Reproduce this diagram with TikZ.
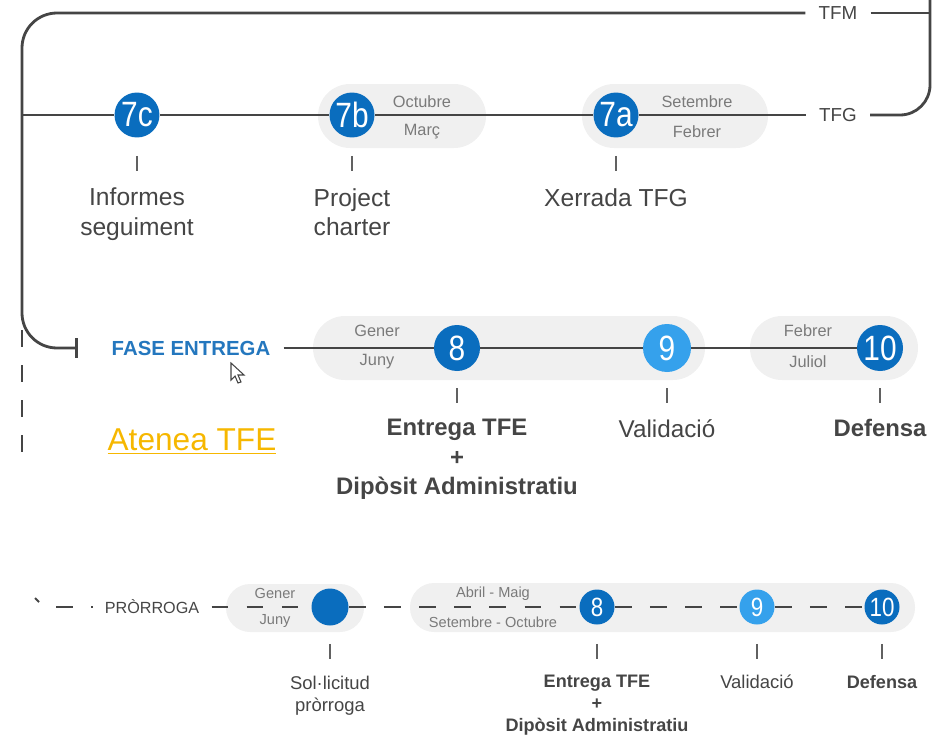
\documentclass[tikz,border=0pt]{standalone}
\usepackage{fontspec}
\setmainfont{Liberation Sans}
\newfontfamily\numfont[FakeStretch=0.85]{Liberation Sans}
\usetikzlibrary{positioning, arrows.meta}
\definecolor{blaufosc}{HTML}{0A6DBE}
\definecolor{blauclar}{HTML}{35A1EC}
\definecolor{grisfons}{HTML}{F0F0F0}
\definecolor{grislinia}{HTML}{454545}
\definecolor{grismes}{HTML}{7A7A7A}
\definecolor{groc}{HTML}{F6B700}
\definecolor{blaufase}{HTML}{2477BE}

\begin{document}
\begin{tikzpicture}[x=0.02cm, y=-0.02cm,
  linia/.style={draw=grislinia, line width=1.6pt},
  puntejat/.style={draw=grislinia, line width=1.4pt, dash pattern=on 9.5pt off 10.5pt},
  marca/.style={draw=grislinia!85, line width=1.1pt},
  fita/.style={circle, fill=blaufosc, text=white, inner sep=0pt, minimum size=.9cm, font=\numfont\fontsize{20}{20}\selectfont},
  fitap/.style={fita, minimum size=.7cm, font=\numfont\fontsize{15}{15}\selectfont},
  mes/.style={text=grismes, inner sep=0pt, font=\fontsize{9.3}{10}\selectfont},
  mesp/.style={mes, font=\fontsize{8.3}{9}\selectfont},
  pastilla/.style={fill=grisfons, rounded corners=.64cm},
  pastillap/.style={fill=grisfons, rounded corners=.48cm},
  etiq/.style={text=grislinia, inner sep=0pt, align=center, font=\fontsize{14}{17}\selectfont},
  etiqm/.style={etiq, font=\fontsize{13.8}{16.8}\selectfont},
  etiqmb/.style={etiq, font=\bfseries\fontsize{13.6}{16.8}\selectfont},
  etiqp/.style={etiq, font=\fontsize{10.5}{12.5}\selectfont},
  etiqpb/.style={etiq, font=\bfseries\fontsize{10.3}{12.5}\selectfont},
  ruta/.style={text=grislinia, inner xsep=.26cm, inner ysep=0pt, font=\fontsize{10.7}{11}\selectfont}]
\useasboundingbox (0,0) rectangle (933,734);
\fill[pastilla] (318,84) rectangle (486,148);
\fill[pastilla] (582,84) rectangle (768,148);
\fill[pastilla] (313,316) rectangle (705,380);
\fill[pastilla] (750,316) rectangle (918,380);
\fill[pastillap] (226,584) rectangle (364,632);
\fill[pastillap] (410,583) rectangle (915,632);

\node[fita] (f7c) at (137,115) {7c};
\node[fita] (f7b) at (352,115) {7b};
\node[fita] (f7a) at (616,115) {7a};
\node[ruta] (tfm) at (838,13) {TFM};
\node[ruta] (tfg) at (838,115) {TFG};
\coordinate (esq) at (22,115);
\coordinate (dret) at (930,13);
\coordinate (dalt) at (930,-4);
\node[mes] (oct) at (422,102) {Octubre};
\node[mes] (mar) at (422,132) {Març};
\node[mes] (set) at (697,102) {Setembre};
\node[mes] (feb) at (697,132) {Febrer};
\node[etiq, below=1cm of f7c] (inf) {Informes\\seguiment};
\node[etiq, below=1cm of f7b] (pc) {Project\\charter};
\node[etiq, below=1cm of f7a] (xer) {Xerrada TFG};

\node[ruta, text=blaufase, font=\bfseries\fontsize{11.6}{12}\selectfont] (fase) at (191,348) {FASE ENTREGA};
\coordinate (topall) at (78,348);
\node[fita, minimum size=.92cm] (f8) at (457,348) {8};
\node[fita, fill=blauclar, minimum size=.96cm] (f9) at (667,348) {9};
\node[fita, minimum size=.92cm] (f10) at (880,348) {10};
\node[mes] (gen) at (377,331) {Gener};
\node[mes] (jun) at (377,362) {Juny};
\node[mes] (febm) at (808,331) {Febrer};
\node[mes] (jul) at (808,362) {Juliol};
\node[etiqmb, below=.95cm of f8] (ent) {Entrega TFE\\+\\Dipòsit Administratiu};
\node[etiqm, below=.93cm of f9] (val) {Validació};
\node[etiqmb, below=.95cm of f10] (def) {Defensa};
\node[text=groc, inner sep=0pt, font=\fontsize{18}{20}\selectfont] (aten) at (192,442) {\underline{Atenea TFE}};

\node[ruta, font=\fontsize{9.2}{10}\selectfont, inner xsep=.24cm] (pror) at (152,607) {PRÒRROGA};
\coordinate (inici) at (56,607);
\node[fitap, minimum size=.74cm] (sol) at (330,607) {};
\node[fitap] (b8) at (597,607) {8};
\node[fitap, fill=blauclar] (b9) at (757,607) {9};
\node[fitap] (b10) at (882,607) {10};
\node[mesp] (gen2) at (275,593) {Gener};
\node[mesp] (jun2) at (275,621) {Juny};
\node[mesp] (abr) at (493,594) {Abril - Maig};
\node[mesp] (sto) at (493,622) {Setembre - Octubre};
\node[etiqp, below=1cm of sol] (sollic) {Sol·licitud\\pròrroga};
\node[etiqpb, below=1cm of b8] (ent2) {Entrega TFE\\+\\Dipòsit Administratiu};
\node[etiqp, below=1cm of b9] (val2) {Validació};
\node[etiqpb, below=1cm of b10] (def2) {Defensa};

\draw[linia] (esq) -- (f7c) -- (f7b) -- (f7a) -- (tfg);
\draw[linia, rounded corners=.7cm, -{Bar[width=.4cm]}] (tfm.west) -- (22,13) -- (22,348) -- (topall);
\draw[linia] (tfm.east) -- (dret);
\draw[linia, rounded corners=.6cm] (dalt) -- (930,115) -- (tfg.east);
\draw[linia] (fase) -- (f8) -- (f9) -- (f10);
\draw[puntejat] (22,330) -- (22,460);
\draw[linia, line width=1.2pt] (35,598) -- (39,602);
\draw[puntejat] (inici) -- (pror) -- (sol) -- (b8) -- (b9) -- (b10);

\draw[marca] (f7c.south) ++(0,18) -- ++(0,15);
\draw[marca] (f7b.south) ++(0,18) -- ++(0,15);
\draw[marca] (f7a.south) ++(0,18) -- ++(0,15);
\draw[marca] (f8.south) ++(0,17) -- ++(0,15);
\draw[marca] (f9.south) ++(0,16) -- ++(0,15);
\draw[marca] (f10.south) ++(0,17) -- ++(0,15);
\draw[marca] (sol.south) ++(0,18) -- ++(0,15);
\draw[marca] (b8.south) ++(0,19) -- ++(0,15);
\draw[marca] (b9.south) ++(0,19) -- ++(0,15);
\draw[marca] (b10.south) ++(0,19) -- ++(0,15);

\draw[grislinia, fill=white, line width=.6pt] (231,363) -- (231,380) -- (235,376) -- (238,383) -- (241,382) -- (238,375) -- (244,375) -- cycle;
\end{tikzpicture}
\end{document}
